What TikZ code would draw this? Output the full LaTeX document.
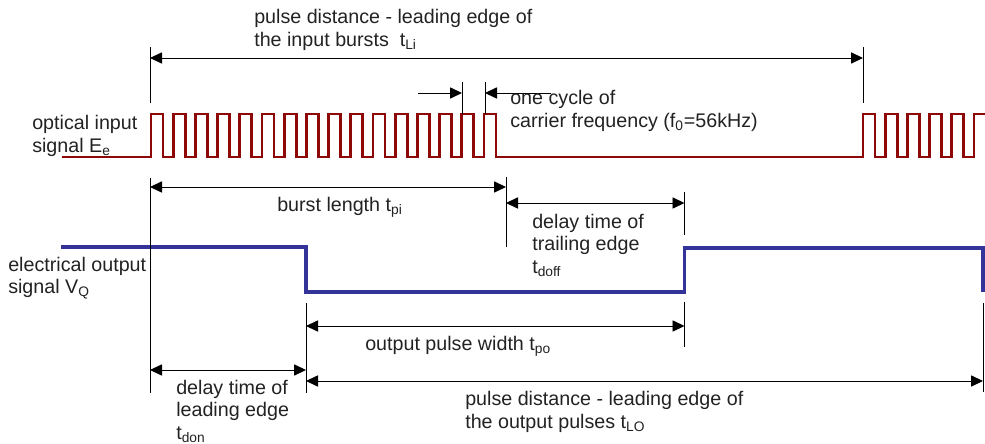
\documentclass[tikz,border=0pt]{standalone}
\usepackage{fontspec}
\setmainfont{Liberation Sans}
\usetikzlibrary{arrows.meta}
\definecolor{SignalRed}{HTML}{8E0808}
\definecolor{OutputBlue}{HTML}{333399}
\definecolor{TextInk}{HTML}{222222}
\newcommand{\tsub}[1]{\textsubscript{#1}}
\tikzset{
  every node/.style={font=\fontsize{14}{16}\selectfont, text=TextInk, inner sep=0pt},
  label/.style={anchor=west, align=left},
  signal/.style={draw=SignalRed, line width=1.9pt},
  output/.style={draw=OutputBlue, line width=2.5pt},
  guide/.style={draw=black, line width=0.7pt},
  dimension/.style={{Triangle[length=3mm,width=2.8mm]}-{Triangle[length=3mm,width=2.8mm]}, draw=black, line width=0.7pt},
  pointer/.style={-{Triangle[length=3mm,width=2.8mm]}, draw=black, line width=0.7pt},
}

\begin{document}
\begin{tikzpicture}[x=0.025cm,y=-0.025cm]
  \useasboundingbox (0,0) rectangle (985,444);
  % time marks
  \coordinate (burstA) at (150,0);
  \coordinate (burstB) at (863,0);
  \coordinate (burstEnd) at (506,0);
  \coordinate (outFall) at (306,0);
  \coordinate (outRise) at (684.5,0);
  \coordinate (outNext) at (983,0);
  % optical input: two bursts of the carrier
  \draw[signal, line join=miter] (62,157)
    \foreach \k in {0,...,15} { -- ({151+22.2*\k},157) -- ++(0,-43) -- ++(12,0) -- ++(0,43) }
    \foreach \k in {0,...,4} { -- ({863+22.2*\k},157) -- ++(0,-43) -- ++(12,0) -- ++(0,43) }
    -- (974,157) -- (974,114) -- (985,114);
  % electrical output
  \draw[output, line join=miter] (61,247) -- (outFall |- 0,247) -- (outFall |- 0,292)
    -- (outRise |- 0,292) -- (outRise |- 0,248) -- (outNext |- 0,248) -- (outNext |- 0,292);
  % guide lines
  \draw[guide] (burstA |- 0,47) -- (burstA |- 0,103);
  \draw[guide] (burstA |- 0,178) -- (burstA |- 0,393);
  \draw[guide] (burstB |- 0,47) -- (burstB |- 0,103);
  \draw[guide] (462,82) -- (462,114);
  \draw[guide] (485,82) -- (485,114);
  \draw[guide] (burstEnd |- 0,177) -- (burstEnd |- 0,247);
  \draw[guide] (outRise |- 0,192) -- (outRise |- 0,235);
  \draw[guide] (outRise |- 0,302) -- (outRise |- 0,347);
  \draw[guide] (outFall |- 0,303) -- (outFall |- 0,393);
  \draw[guide] (outNext |- 0,303) -- (outNext |- 0,392);
  % dimensions
  \coordinate (cycA) at (418,93);
  \coordinate (cycB) at (462,93);
  \coordinate (cycC) at (551,93);
  \coordinate (cycD) at (485,93);
  \draw[dimension] (burstA |- 0,58) -- (burstB |- 0,58);
  \draw[pointer] (cycA) -- (cycB);
  \draw[pointer] (cycC) -- (cycD);
  \draw[dimension] (burstA |- 0,187) -- (burstEnd |- 0,187);
  \draw[dimension] (burstEnd |- 0,203) -- (outRise |- 0,203);
  \draw[dimension] (outFall |- 0,326) -- (outRise |- 0,326);
  \draw[dimension] (burstA |- 0,370) -- (outFall |- 0,370);
  \draw[dimension] (outFall |- 0,381) -- (outNext |- 0,381);
  % labels
  \node[label] (tLi) at (254,30) {pulse distance - leading edge of\\the input bursts\ \ t\tsub{Li}};
  \node[label] (inSig) at (32,136) {optical input\\signal E\tsub{e}};
  \node[label] (cycle) at (510,111) {one cycle of\\carrier frequency (f\tsub{0}=56kHz)};
  \node[label] (tpi) at (277,207) {burst length t\tsub{pi}};
  \node[label] (tdoff) at (532,245) {delay time of\\trailing edge\\t\tsub{doff}};
  \node[label] (outSig) at (8,278) {electrical output\\signal V\tsub{Q}};
  \node[label] (tpo) at (365,346) {output pulse width t\tsub{po}};
  \node[label] (tdon) at (176,411) {delay time of\\leading edge\\t\tsub{don}};
  \node[label] (tLO) at (465,412) {pulse distance - leading edge of\\the output pulses t\tsub{LO}};
\end{tikzpicture}
\end{document}
